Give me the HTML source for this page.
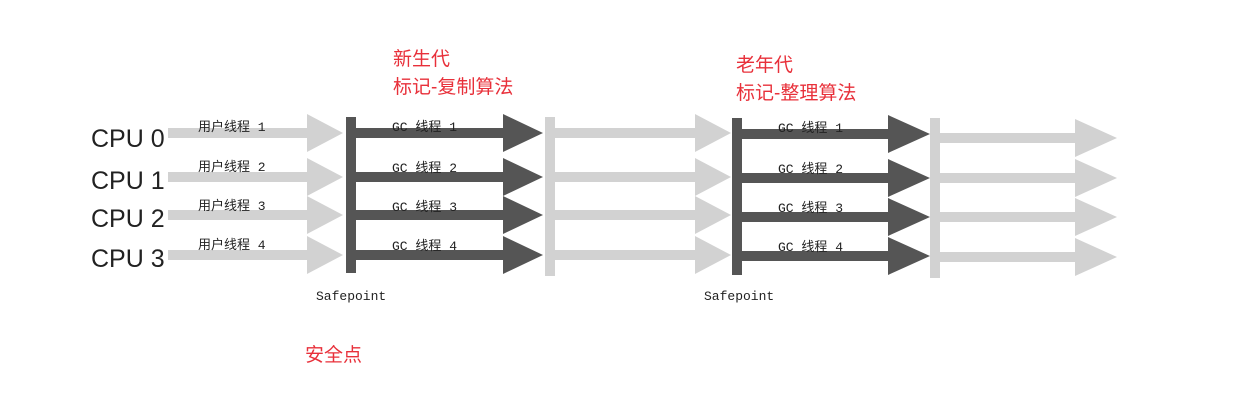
<!DOCTYPE html>
<html><head><meta charset="utf-8"><style>
html,body{margin:0;padding:0;background:#fff;width:1242px;height:403px;overflow:hidden}
svg{display:block}
.cpu{font-family:"Liberation Sans",sans-serif;font-size:25px;fill:#222}
.lb{font-family:"Liberation Mono","Noto Sans CJK SC",monospace;font-size:13px;fill:#222}
.sp{font-family:"Liberation Mono",monospace;font-size:13px;fill:#222}
.red{font-family:"Liberation Sans","Noto Sans CJK SC",sans-serif;font-size:19px;fill:#e8303a}
</style></head><body>
<svg width="1242" height="403" xmlns="http://www.w3.org/2000/svg">
<g fill="#d2d2d2">
<path d="M168,128h139v-14l36,19l-36,19v-14h-139z"/>
<path d="M168,172h139v-14l36,19l-36,19v-14h-139z"/>
<path d="M168,210h139v-14l36,19l-36,19v-14h-139z"/>
<path d="M168,250h139v-14l36,19l-36,19v-14h-139z"/>
</g>
<rect x="346" y="117" width="10" height="156" fill="#555"/>
<g fill="#555">
<path d="M356,128h147v-14l40,19l-40,19v-14h-147z"/>
<path d="M356,172h147v-14l40,19l-40,19v-14h-147z"/>
<path d="M356,210h147v-14l40,19l-40,19v-14h-147z"/>
<path d="M356,250h147v-14l40,19l-40,19v-14h-147z"/>
</g>
<rect x="545" y="117" width="10" height="159" fill="#d2d2d2"/>
<g fill="#d2d2d2">
<path d="M555,128h140v-14l36,19l-36,19v-14h-140z"/>
<path d="M555,172h140v-14l36,19l-36,19v-14h-140z"/>
<path d="M555,210h140v-14l36,19l-36,19v-14h-140z"/>
<path d="M555,250h140v-14l36,19l-36,19v-14h-140z"/>
</g>
<rect x="732" y="118" width="10" height="157" fill="#555"/>
<g fill="#555">
<path d="M742,129h146v-14l42,19l-42,19v-14h-146z"/>
<path d="M742,173h146v-14l42,19l-42,19v-14h-146z"/>
<path d="M742,212h146v-14l42,19l-42,19v-14h-146z"/>
<path d="M742,251h146v-14l42,19l-42,19v-14h-146z"/>
</g>
<rect x="930" y="118" width="10" height="160" fill="#d2d2d2"/>
<g fill="#d2d2d2">
<path d="M940,133h135v-14l42,19l-42,19v-14h-135z"/>
<path d="M940,173h135v-14l42,19l-42,19v-14h-135z"/>
<path d="M940,212h135v-14l42,19l-42,19v-14h-135z"/>
<path d="M940,252h135v-14l42,19l-42,19v-14h-135z"/>
</g>
<text class="cpu" x="91" y="147">CPU 0</text>
<text class="cpu" x="91" y="189">CPU 1</text>
<text class="cpu" x="91" y="227">CPU 2</text>
<text class="cpu" x="91" y="267">CPU 3</text>
<g class="lb">
<text x="198" y="131">用户线程 1</text>
<text x="198" y="171">用户线程 2</text>
<text x="198" y="210">用户线程 3</text>
<text x="198" y="249">用户线程 4</text>
<text x="392" y="131">GC 线程 1</text>
<text x="392" y="172">GC 线程 2</text>
<text x="392" y="211">GC 线程 3</text>
<text x="392" y="250">GC 线程 4</text>
<text x="778" y="132">GC 线程 1</text>
<text x="778" y="173">GC 线程 2</text>
<text x="778" y="212">GC 线程 3</text>
<text x="778" y="251">GC 线程 4</text>
</g>
<text class="sp" x="316" y="300">Safepoint</text>
<text class="sp" x="704" y="300">Safepoint</text>
<text class="red" x="393" y="65">新生代</text>
<text class="red" x="393" y="93">标记-复制算法</text>
<text class="red" x="736" y="71">老年代</text>
<text class="red" x="736" y="99">标记-整理算法</text>
<text class="red" x="305" y="361">安全点</text>
</svg>
</body></html>
